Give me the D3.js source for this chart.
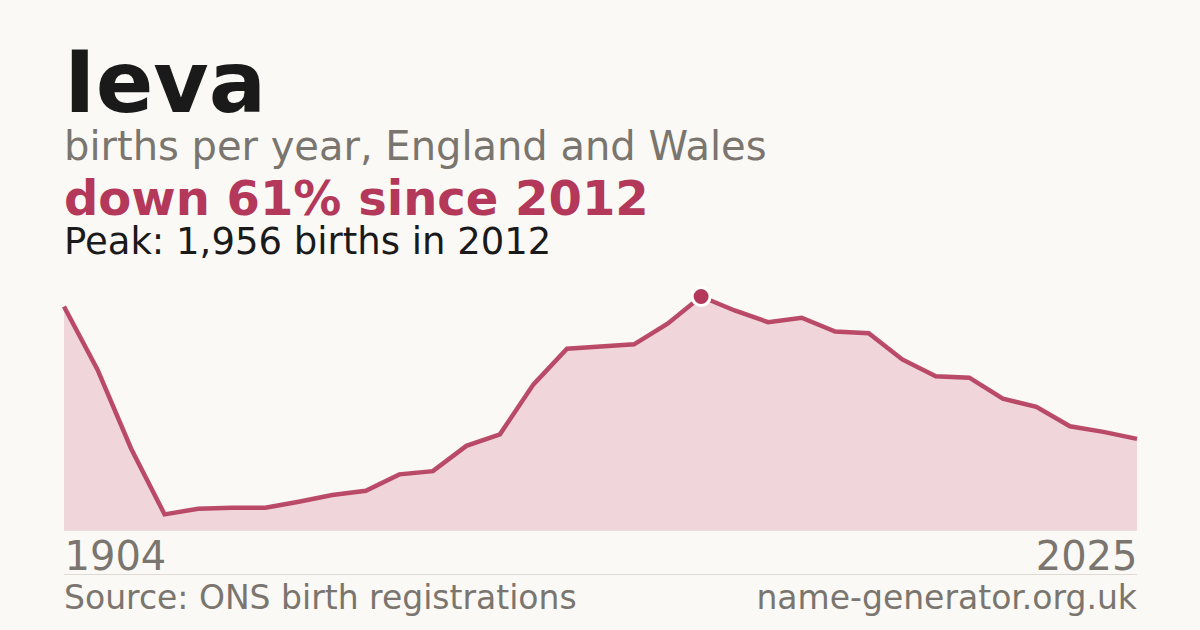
<!DOCTYPE html>
<html>
<head>
<meta charset="utf-8">
<script src="https://cdn.jsdelivr.net/npm/d3@7"></script>
<style>
  html, body { margin: 0; padding: 0; background: #faf9f5; }
  svg { display: block; font-family: 'DejaVu Sans', sans-serif; }
</style>
</head>
<body>
<svg></svg>
<script>
const WIDTH = 1200;
const HEIGHT = 630;
const MARGINS = { left: 64, right: 63, top: 296.5, bottom: 100 };
const ACCENT = '#b3385a';
const GREY = '#7a756e';

// ONS births per year for "Ieva"
const years = ['1904', '1994', '1995', '1996', '1997', '1998', '1999', '2000', '2001', '2002',
  '2003', '2004', '2005', '2006', '2007', '2008', '2009', '2010', '2011', '2012',
  '2013', '2014', '2015', '2016', '2017', '2018', '2019', '2020', '2021', '2022',
  '2023', '2024', '2025'];
const births = [1872, 1343, 683, 131, 178, 186, 186, 237, 293, 329,
  466, 493, 705, 802, 1220, 1519, 1538, 1555, 1728, 1956,
  1839, 1741, 1778, 1663, 1649, 1429, 1287, 1276, 1101, 1031,
  869, 822, 763];
const tickLabels = ['1904', '2025'];

const data = years.map((y, i) => ({ year: y, value: births[i] }));
const peak = data.reduce((a, b) => (b.value > a.value ? b : a));
const last = data[data.length - 1];
const drop = Math.round((1 - last.value / peak.value) * 100);

const svg = d3.select('svg').attr('width', WIDTH).attr('height', HEIGHT);

svg.append('rect').attr('width', WIDTH).attr('height', HEIGHT).attr('fill', '#faf9f5');

const graphBottom = 530;

const x = d3
  .scalePoint()
  .domain(years)
  .range([MARGINS.left, WIDTH - MARGINS.right]);
const y = d3
  .scaleLinear()
  .domain([0, peak.value])
  .range([graphBottom, MARGINS.top]);

// header texts
svg.append('text')
  .attr('x', 64).attr('y', 112)
  .attr('font-size', 85).attr('font-weight', 'bold').attr('fill', '#1a1a1a')
  .text('Ieva');
svg.append('text')
  .attr('x', 64).attr('y', 160)
  .attr('font-size', 40).attr('fill', GREY)
  .text('births per year, England and Wales');
svg.append('text')
  .attr('x', 64).attr('y', 215)
  .attr('font-size', 48).attr('font-weight', 'bold').attr('fill', ACCENT)
  .text(`down ${drop}% since ${peak.year}`);
svg.append('text')
  .attr('x', 64).attr('y', 254)
  .attr('font-size', 37).attr('fill', '#1a1a1a')
  .text(`Peak: ${d3.format(',')(peak.value)} births in ${peak.year}`);

// area + line
const area = d3.area()
  .x((d) => x(d.year))
  .y0(graphBottom)
  .y1((d) => y(d.value));
const line = d3.line()
  .x((d) => x(d.year))
  .y((d) => y(d.value));

svg.append('path')
  .datum(data)
  .attr('d', area)
  .attr('fill', '#f0d5db');

svg.append('line')
  .attr('x1', MARGINS.left).attr('x2', WIDTH - MARGINS.right)
  .attr('y1', graphBottom + 0.5).attr('y2', graphBottom + 0.5)
  .attr('stroke', '#e6dfdc').attr('stroke-width', 1);

svg.append('path')
  .datum(data)
  .attr('d', line)
  .attr('fill', 'none')
  .attr('stroke', ACCENT)
  .attr('stroke-opacity', 0.9)
  .attr('stroke-width', 4.5);

svg.append('circle')
  .attr('cx', x(peak.year))
  .attr('cy', y(peak.value))
  .attr('r', 9)
  .attr('fill', ACCENT)
  .attr('stroke', '#ffffff')
  .attr('stroke-width', 3);

// x axis: first and last year only
const xAxisGroup = svg.append('g')
  .attr('transform', `translate(0, ${graphBottom})`);
xAxisGroup.call(d3.axisBottom(x).tickValues(tickLabels).tickSize(0).tickPadding(0));
xAxisGroup.select('.domain').remove();
xAxisGroup.selectAll('text')
  .attr('font-family', 'DejaVu Sans, sans-serif')
  .attr('font-size', 40)
  .attr('fill', GREY)
  .attr('dy', null)
  .attr('y', 40)
  .attr('text-anchor', (d, i) => (i === 0 ? 'start' : 'end'));

// footer
svg.append('line')
  .attr('x1', MARGINS.left).attr('x2', WIDTH - MARGINS.right)
  .attr('y1', 574.5).attr('y2', 574.5)
  .attr('stroke', '#dedad3').attr('stroke-width', 1);
svg.append('text')
  .attr('x', 64).attr('y', 609)
  .attr('font-size', 33).attr('fill', GREY)
  .text('Source: ONS birth registrations');
svg.append('text')
  .attr('x', WIDTH - MARGINS.right).attr('y', 609)
  .attr('text-anchor', 'end')
  .attr('font-size', 33).attr('fill', GREY)
  .text('name-generator.org.uk');
</script>
</body>
</html>
